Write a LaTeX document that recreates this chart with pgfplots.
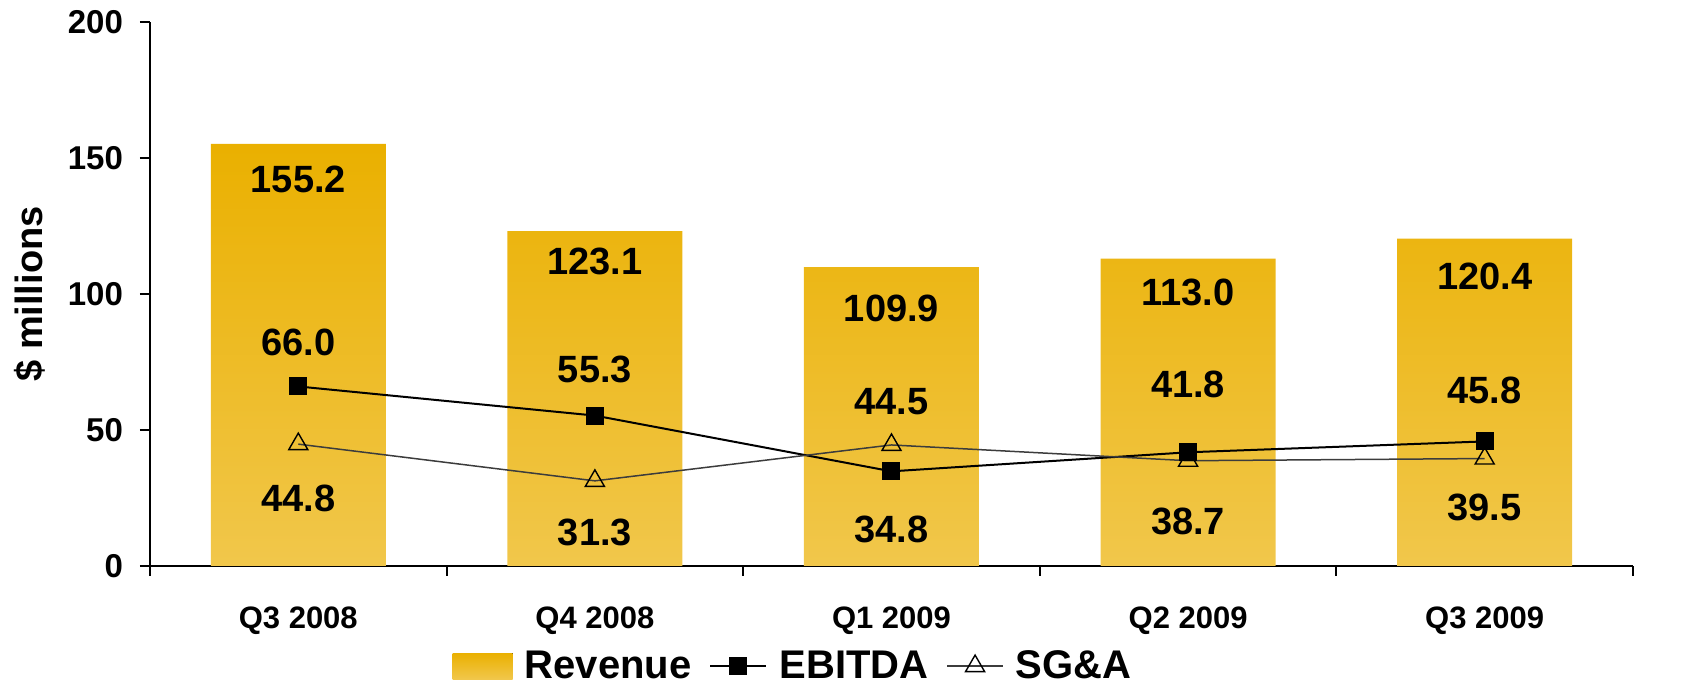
\documentclass[border=0pt]{standalone}
\usepackage{fontspec}
\setmainfont{Liberation Sans}
\usepackage{pgfplots}
\pgfplotsset{compat=1.18}
\usepackage{pgfplotstable}

\definecolor{revtop}{RGB}{234,176,0}
\definecolor{revbot}{RGB}{241,199,75}
\definecolor{sgaline}{RGB}{60,60,60}

% ly = vertical position of the value label (axis units)
\pgfplotstableread{
x val ly
0 155.2 142.0
1 123.1 112.1
2 109.9 94.8
3 113.0 100.5
4 120.4 106.4
}\revtab
\pgfplotstableread{
x val ly
0 66.0 82.2
1 55.3 72.2
2 34.8 13.5
3 41.8 66.8
4 45.8 64.6
}\ebitdatab
\pgfplotstableread{
x val ly
0 44.8 25.0
1 31.3 12.2
2 44.5 60.3
3 38.7 16.3
4 39.5 21.5
}\sgatab

\pgfplotsset{
  vallabel/.style={draw=none, mark=none, forget plot,
    point meta=\thisrow{val},
    nodes near coords={\pgfmathprintnumber[fixed,fixed zerofill,precision=1]{\pgfplotspointmeta}},
    every node near coord/.style={anchor=center, text=black, inner sep=0pt,
      font=\bfseries\fontsize{19}{22}\selectfont}},
}

\begin{document}
\begin{tikzpicture}
\begin{axis}[
  name=ax,
  scale only axis,
  width=741.5pt, height=272pt,
  xmin=-0.5, xmax=4.5, ymin=0, ymax=200,
  axis x line*=bottom, axis y line*=left,
  axis line style={line width=1pt, black},
  xtick={-0.5,0.5,1.5,2.5,3.5,4.5},
  x tick label as interval,
  xticklabels={Q3 2008,Q4 2008,Q1 2009,Q2 2009,Q3 2009,},
  ytick={0,50,100,150,200},
  tick align=outside,
  major tick length=5pt,
  tick style={black, line width=1pt},
  /pgf/number format/assume math mode=true,
  xticklabel style={font=\bfseries\fontsize{15.5}{18}\selectfont, yshift=-12pt},
  yticklabel style={font=\bfseries\fontsize{16.5}{19}\selectfont, xshift=-5pt},
  ylabel={\$ millions},
  every axis y label/.style={at={(axis description cs:-0.081,0.5)}, rotate=90, anchor=center,
    font=\bfseries\fontsize{19}{22}\selectfont},
  clip=false,
  legend columns=-1,
  legend style={at={(axis description cs:0.437,-0.184)}, anchor=center, draw=none,
    font=\bfseries\fontsize{20}{22}\selectfont, inner sep=0pt,
    nodes={inner xsep=6pt, inner ysep=0pt},
    /tikz/every even column/.append style={column sep=3pt}},
]
\addplot[ybar, bar width=87.5pt, draw=none, top color=revtop, bottom color=revbot,
  legend image code/.code={\fill[top color=revtop, bottom color=revbot] (0pt,-6.5pt) rectangle (30pt,6.5pt);}]
  table[x=x, y=val] {\revtab};
\addlegendentry{Revenue}

\addplot[black, line width=1pt, mark=square*, mark size=4pt,
  legend image code/.code={\draw[black, line width=1pt] (0pt,0pt) -- (28pt,0pt);
    \fill[black] (10pt,-4pt) rectangle (18pt,4pt);}]
  table[x=x, y=val] {\ebitdatab};
\addlegendentry{EBITDA}

\addplot[sgaline, line width=0.75pt, mark=triangle, mark size=5.5pt,
  mark options={black, line width=0.7pt},
  legend image code/.code={\draw[sgaline, line width=0.75pt] (0pt,0pt) -- (28pt,0pt);
    \draw[black, line width=0.7pt] (14pt,5.5pt) -- (9.24pt,-2.75pt) -- (18.76pt,-2.75pt) -- cycle;}]
  table[x=x, y=val] {\sgatab};
\addlegendentry{SG\&A}

\addplot[vallabel] table[x=x, y=ly] {\revtab};
\addplot[vallabel] table[x=x, y=ly] {\ebitdatab};
\addplot[vallabel] table[x=x, y=ly] {\sgatab};
\end{axis}
\pgfresetboundingbox
\useasboundingbox ([shift={(-75pt,-61pt)}]ax.south west) rectangle ++(852pt,344pt);
\end{tikzpicture}
\end{document}
